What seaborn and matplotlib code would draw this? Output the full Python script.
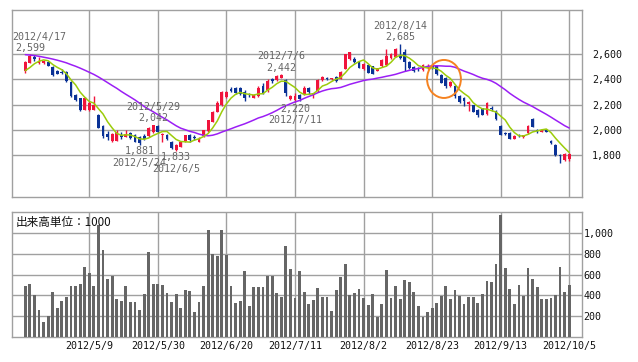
import numpy as np
import pandas as pd
import matplotlib
matplotlib.use("Agg")
import matplotlib.pyplot as plt
import seaborn as sns
from matplotlib.patches import Ellipse

sns.set_style("white")
plt.rcParams["font.family"] = ["DejaVu Sans Mono", "Noto Sans CJK JP"]

# ---------------- data ----------------
holidays = ["2012-04-30", "2012-05-03", "2012-05-04", "2012-07-16", "2012-09-17"]
dates = pd.bdate_range("2012-04-16", "2012-10-05", freq="C", holidays=holidays)

opens = [2470, 2533, 2581, 2530, 2528, 2541, 2500, 2470, 2460, 2462,
         2380, 2280, 2250, 2160, 2155, 2160, 2118, 2030, 1965, 1912,
         1912, 1962, 1945, 1972, 1955, 1940, 1950, 1948, 1980, 2030,
         1955, 1962, 1905, 1842, 1865, 1910, 1958, 1945, 1905, 1950,
         1990, 2065, 2145, 2195, 2263, 2328, 2332, 2333, 2300, 2285,
         2255, 2270, 2345, 2315, 2405, 2398, 2415, 2395, 2245, 2235,
         2280, 2285, 2330, 2275, 2310, 2395, 2415, 2400, 2420, 2405,
         2485, 2560, 2565, 2540, 2480, 2515, 2505, 2470, 2505, 2515,
         2570, 2580, 2595, 2620, 2540, 2500, 2490, 2478, 2490, 2515,
         2510, 2435, 2415, 2345, 2348, 2268, 2250, 2208, 2196, 2160,
         2170, 2123, 2175, 2150, 2030, 1975, 1975, 1930, 1960, 1940,
         1972, 2086, 2000, 1985, 2000, 1911, 1880, 1800, 1760, 1765]
highs = [2545, 2599, 2594, 2575, 2555, 2548, 2505, 2475, 2480, 2470,
         2385, 2285, 2255, 2258, 2225, 2270, 2125, 2035, 1990, 1975,
         2000, 1985, 1995, 1985, 1965, 1950, 1965, 2020, 2042, 2035,
         1975, 1968, 1910, 1885, 1910, 1962, 1965, 1960, 1940, 2000,
         2080, 2150, 2225, 2310, 2312, 2338, 2340, 2338, 2315, 2295,
         2285, 2345, 2368, 2402, 2415, 2436, 2442, 2402, 2275, 2290,
         2285, 2345, 2340, 2295, 2405, 2430, 2420, 2415, 2425, 2470,
         2605, 2620, 2575, 2545, 2530, 2520, 2510, 2495, 2560, 2640,
         2610, 2650, 2685, 2640, 2545, 2505, 2500, 2520, 2525, 2520,
         2515, 2440, 2420, 2385, 2355, 2280, 2262, 2228, 2200, 2165,
         2175, 2222, 2190, 2155, 2035, 1985, 1980, 1960, 1965, 1962,
         2035, 2090, 2005, 2010, 2010, 1915, 1885, 1805, 1815, 1815]
lows = [2455, 2528, 2549, 2520, 2520, 2505, 2430, 2440, 2440, 2380,
        2258, 2232, 2150, 2155, 2150, 2155, 2012, 1935, 1920, 1905,
        1908, 1925, 1940, 1930, 1900, 1881, 1915, 1940, 1975, 1978,
        1905, 1920, 1850, 1833, 1860, 1905, 1900, 1920, 1900, 1945,
        1985, 2060, 2140, 2190, 2255, 2298, 2285, 2275, 2225, 2260,
        2250, 2260, 2285, 2300, 2375, 2390, 2408, 2270, 2238, 2220,
        2232, 2280, 2285, 2250, 2300, 2390, 2395, 2395, 2380, 2400,
        2480, 2555, 2530, 2490, 2475, 2450, 2440, 2465, 2500, 2510,
        2565, 2575, 2560, 2465, 2485, 2460, 2465, 2470, 2480, 2485,
        2435, 2370, 2330, 2340, 2255, 2210, 2190, 2150, 2140, 2103,
        2115, 2118, 2150, 2078, 1955, 1960, 1925, 1928, 1945, 1935,
        1965, 2020, 1975, 1980, 1980, 1888, 1795, 1736, 1755, 1755]
closes = [2541, 2586, 2560, 2545, 2545, 2509, 2436, 2445, 2452, 2385,
          2265, 2238, 2157, 2250, 2215, 2200, 2017, 1948, 1940, 1970,
          1985, 1940, 1965, 1935, 1905, 1895, 1925, 2015, 2035, 1985,
          1970, 1928, 1855, 1878, 1905, 1958, 1915, 1935, 1930, 1995,
          2075, 2140, 2210, 2300, 2303, 2305, 2292, 2285, 2250, 2275,
          2280, 2335, 2295, 2390, 2385, 2426, 2435, 2290, 2265, 2265,
          2245, 2335, 2300, 2290, 2395, 2420, 2400, 2410, 2390, 2460,
          2600, 2615, 2540, 2495, 2525, 2455, 2445, 2490, 2555, 2585,
          2605, 2645, 2570, 2540, 2490, 2470, 2480, 2512, 2505, 2495,
          2440, 2375, 2350, 2380, 2265, 2218, 2228, 2222, 2145, 2118,
          2120, 2216, 2165, 2085, 1960, 1965, 1930, 1950, 1955, 1955,
          2030, 2025, 1990, 2000, 1985, 1893, 1800, 1790, 1808, 1808]
volumes = [487, 506, 401, 256, 141, 199, 429, 276, 343, 381,
           487, 487, 506, 670, 615, 487, 1083, 833, 554, 590,
           362, 343, 487, 333, 333, 256, 410, 814, 506, 506,
           497, 420, 333, 410, 276, 449, 439, 237, 333, 487,
           1035, 795, 776, 1035, 785, 487, 324, 343, 631, 295,
           478, 478, 478, 590, 590, 420, 381, 881, 651, 372,
           631, 429, 314, 353, 468, 385, 385, 250, 449, 574,
           699, 401, 420, 458, 372, 304, 410, 192, 314, 641,
           372, 487, 362, 545, 526, 429, 295, 192, 237, 276,
           324, 391, 487, 362, 449, 391, 314, 381, 381, 324,
           410, 535, 526, 699, 1179, 660, 458, 314, 497, 391,
           660, 554, 478, 362, 362, 372, 401, 670, 429, 497]
# moving-average values before enough history is visible
ma5_head = [2470, 2495, 2525, 2545]
ma25_head = [2597, 2594, 2590, 2584, 2577, 2570, 2562, 2553, 2543, 2532,
             2518, 2505, 2490, 2474, 2457, 2440, 2420, 2398, 2375, 2352,
             2330, 2305, 2282, 2260]

tick_dates = ["2012/5/9", "2012/5/30", "2012/6/20", "2012/7/11",
              "2012/8/2", "2012/8/23", "2012/9/13", "2012/10/5"]
price_ticks = [1800, 2000, 2200, 2400, 2600]
volume_ticks = [200, 400, 600, 800, 1000]

ann_dates = ["2012/4/17", "2012/5/24", "2012/5/29", "2012/6/5",
             "2012/7/6", "2012/7/11", "2012/8/14"]
ann_values = [2599, 1881, 2042, 1833, 2442, 2220, 2685]
ann_kind = ["high", "low", "high", "low", "high", "low", "high"]

# ---------------- derived ----------------
labels = [f"{d.year}/{d.month}/{d.day}" for d in dates]
idx = np.arange(len(dates))
cl = pd.Series(closes, dtype=float)
ma5 = cl.rolling(5).mean().to_numpy()
ma5[:len(ma5_head)] = ma5_head
ma25 = cl.rolling(25).mean().to_numpy()
ma25[:len(ma25_head)] = ma25_head
df = pd.DataFrame({"i": idx, "open": opens, "high": highs, "low": lows,
                   "close": closes, "vol": volumes, "ma5": ma5, "ma25": ma25})

RED = "#f0143c"
BLUE = "#0a3296"
GRID = "#a0a0a0"
FS = 7.2
MONO = ["DejaVu Sans Mono"]
CJK = ["Noto Sans CJK JP", "DejaVu Sans"]

W, H = 638, 362
fig = plt.figure(figsize=(W / 100, H / 100), dpi=100)
ax1 = fig.add_axes([12 / W, 1 - 197 / H, 570 / W, 187 / H])
ax2 = fig.add_axes([12 / W, 1 - 336.7 / H, 570 / W, 124.7 / H])

xlim = (-2.91, 121.8)
tick_pos = [labels.index(t) for t in tick_dates]

for ax in (ax1, ax2):
    ax.set_xlim(*xlim)
    ax.set_xticks(tick_pos)
    ax.grid(True, color=GRID, lw=1.0)
    ax.set_axisbelow(True)
    for s in ax.spines.values():
        s.set_color(GRID)
        s.set_linewidth(1.0)
    ax.tick_params(length=0, labelsize=FS, colors="#111111")

# ---- price panel ----
up = df["close"] >= df["open"]
colors = np.where(up, RED, BLUE)
ax1.vlines(df["i"], df["low"], df["high"], colors=colors, lw=1.0, zorder=3)
body_lo = np.minimum(df["open"], df["close"])
body_h = np.maximum(np.abs(df["close"] - df["open"]), 4)
ax1.bar(df["i"], body_h, bottom=body_lo, width=0.62, color=colors,
        linewidth=0, zorder=4)
sns.lineplot(data=df, x="i", y="ma25", ax=ax1, color="#9b1ef5", lw=1.1,
             zorder=5)
sns.lineplot(data=df, x="i", y="ma5", ax=ax1, color="#9ccc0a", lw=1.1,
             zorder=6)
ax1.set_ylim(1466, 2952)
ax1.set_yticks(price_ticks)
ax1.yaxis.tick_right()
ax1.set_yticklabels([f"{v:,}" for v in price_ticks], family=MONO)
ax1.tick_params(axis="y", pad=7.4)
ax1.set_xticklabels([])
ax1.set_xlabel("")
ax1.set_ylabel("")

# annotations for highs / lows
for d, v, k in zip(ann_dates, ann_values, ann_kind):
    i = labels.index(d)
    sgn = 1 if k == "high" else -1
    ax1.annotate(f"{v:,}", xy=(i, v), xytext=(0, sgn * 4.8),
                 textcoords="offset points", ha="center", va="center",
                 fontsize=FS, color="#666666", family=MONO, zorder=7)
    t = ax1.annotate(d, xy=(i, v), xytext=(0, sgn * 12.8),
                     textcoords="offset points", ha="center", va="center",
                     fontsize=FS, color="#666666", family=MONO, zorder=7)
    if i < 5:
        t.set_ha("left")
        t.xy = (xlim[0], v)

# highlight circle
circ_center = (91.6, 2404)
circ_size = (7.4, 302)
ax1.add_patch(Ellipse(circ_center, circ_size[0], circ_size[1], fill=False,
                      edgecolor="#f58220", lw=1.4, zorder=8))

# ---- volume panel ----
sns.barplot(data=df, x="i", y="vol", ax=ax2, native_scale=True,
            color="#666666", width=0.62, saturation=1, linewidth=0,
            zorder=3)
ax2.set_xlim(*xlim)
ax2.set_ylim(0, 1205)
ax2.set_yticks(volume_ticks)
ax2.yaxis.tick_right()
ax2.set_yticklabels([f"{v:,}" for v in volume_ticks], family=MONO)
ax2.tick_params(axis="y", pad=1.0)
ax2.set_xticks(tick_pos)
ax2.set_xticklabels(tick_dates, family=MONO)
ax2.tick_params(axis="x", pad=3)
ax2.set_xlabel("")
ax2.set_ylabel("")
ax2.text(4 / 570, 1 - 11 / 124.7, "出来高単位：1000", transform=ax2.transAxes,
         ha="left", va="center", fontsize=8.4, color="#111111", family=CJK)

fig.savefig("out.png", dpi=100, facecolor="white")
